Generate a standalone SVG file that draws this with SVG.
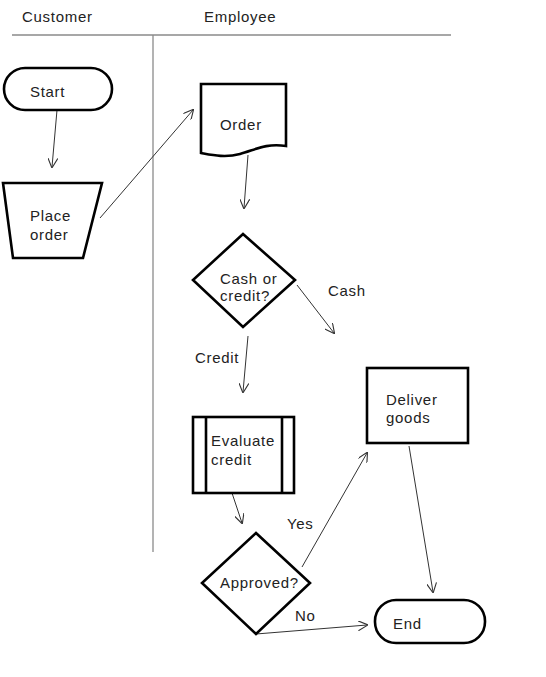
<svg xmlns="http://www.w3.org/2000/svg" width="546" height="677" viewBox="0 0 546 677">
<defs>
<style>
.lane{stroke:#8a8a8a;stroke-width:1.3;fill:none}
.node{fill:#fff;stroke:#000;stroke-width:2.6}
.conn{stroke:#333;stroke-width:1;fill:none;marker-end:url(#arr)}
text{font-family:"Liberation Sans",Arial,sans-serif;font-size:15px;fill:#222;letter-spacing:0.7px}
</style>
<marker id="arr" viewBox="0 0 10 10" refX="9" refY="5" markerWidth="10" markerHeight="10" markerUnits="userSpaceOnUse" orient="auto">
<path d="M0,0 L10,5 L0,10" fill="none" stroke="#333" stroke-width="1.1"/>
</marker>
</defs>
<rect width="546" height="677" fill="#fff"/>
<g id="lanes">
<line class="lane" x1="12" y1="35" x2="451" y2="35"/>
<line class="lane" x1="153" y1="35" x2="153" y2="552"/>
<text x="22" y="22">Customer</text>
<text x="204" y="22">Employee</text>
</g>
<g id="connectors">
<line class="conn" x1="57" y1="110" x2="52" y2="167"/>
<line class="conn" x1="100" y1="218" x2="193" y2="110"/>
<line class="conn" x1="248" y1="155" x2="244" y2="208"/>
<line class="conn" x1="297" y1="285" x2="334" y2="333"/>
<line class="conn" x1="248" y1="336" x2="243" y2="392"/>
<line class="conn" x1="232" y1="493" x2="242" y2="523"/>
<line class="conn" x1="302" y1="567" x2="367" y2="453"/>
<line class="conn" x1="409" y1="446" x2="433" y2="592"/>
<line class="conn" x1="256" y1="634" x2="367" y2="625"/>
<text x="328" y="296">Cash</text>
<text x="195" y="363">Credit</text>
<text x="287" y="529">Yes</text>
<text x="295" y="621">No</text>
</g>
<g id="start">
<rect class="node" x="4" y="68" width="108" height="42" rx="21"/>
<text x="30" y="97">Start</text>
</g>
<g id="place-order">
<path class="node" d="M3,183 L102,183 L83,258 L13,258 Z"/>
<text x="30" y="221">Place</text>
<text x="30" y="240">order</text>
</g>
<g id="order">
<path class="node" d="M201,84 L286,84 L286,146 C265,143 255,150 240,154 C225,158 212,155 201,153 Z"/>
<text x="220" y="130">Order</text>
</g>
<g id="cash-or-credit">
<path class="node" d="M243,234 L295,280 L243,327 L193,280 Z"/>
<text x="220" y="284">Cash or</text>
<text x="220" y="301">credit?</text>
</g>
<g id="evaluate-credit">
<rect class="node" x="193" y="417" width="101" height="76"/>
<line class="node" x1="206" y1="417" x2="206" y2="493"/>
<line class="node" x1="282" y1="417" x2="282" y2="493"/>
<text x="211" y="446">Evaluate</text>
<text x="211" y="465">credit</text>
</g>
<g id="deliver-goods">
<rect class="node" x="367" y="368" width="101" height="75"/>
<text x="386" y="405">Deliver</text>
<text x="386" y="423">goods</text>
</g>
<g id="approved">
<path class="node" d="M256,533 L310,583 L256,634 L202,583 Z"/>
<text x="220" y="588">Approved?</text>
</g>
<g id="end">
<rect class="node" x="375" y="600" width="110" height="43" rx="21"/>
<text x="393" y="629">End</text>
</g>
</svg>
